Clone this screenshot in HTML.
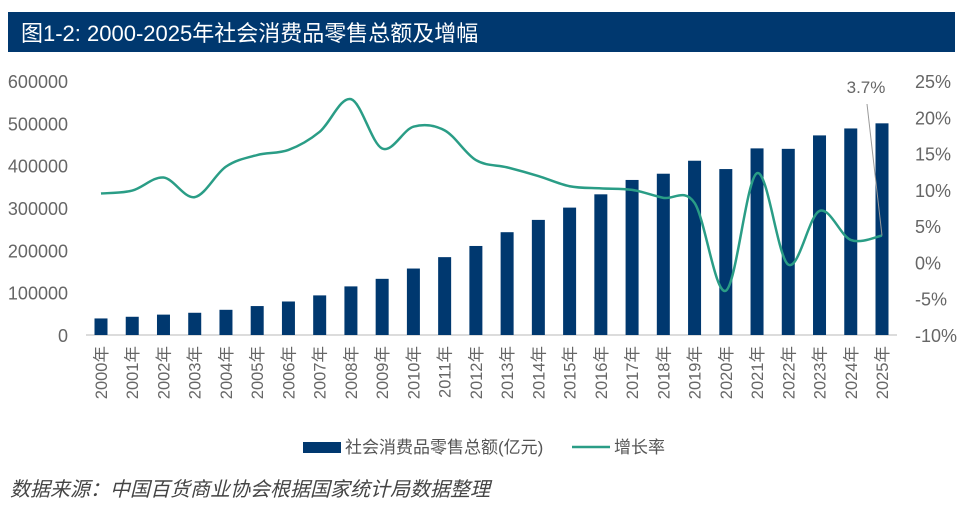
<!DOCTYPE html>
<html><head><meta charset="utf-8"><style>
body{margin:0;background:#fff;width:966px;height:510px;overflow:hidden;font-family:"Liberation Sans","Noto Sans CJK SC",sans-serif}
</style></head><body>
<svg id="c" width="966" height="510" xmlns="http://www.w3.org/2000/svg">
<rect x="8" y="12" width="947" height="40" fill="#00386f"/>
<text x="21" y="41" font-size="22" fill="#fff" font-family="Liberation Sans,Noto Sans CJK SC,sans-serif">图1-2: 2000-2025年社会消费品零售总额及增幅</text>
<g id="g"></g>
<rect x="303" y="442" width="38" height="11" fill="#00386f"/>
<text x="345" y="453" font-size="17" fill="#555">社会消费品零售总额(亿元)</text>
<line x1="572" y1="447" x2="610" y2="447" stroke="#2a9d86" stroke-width="2.5"/>
<text x="614" y="453" font-size="17" fill="#555">增长率</text>
<text x="10" y="496" font-size="20" font-style="italic" fill="#444">数据来源：中国百货商业协会根据国家统计局数据整理</text>
</svg>
<script>
const years=["2000年","2001年","2002年","2003年","2004年","2005年","2006年","2007年","2008年","2009年","2010年","2011年","2012年","2013年","2014年","2015年","2016年","2017年","2018年","2019年","2020年","2021年","2022年","2023年","2024年","2025年"];
const sales=[39106,43055,48136,52516,59501,68353,79145,93572,114830,132678,156998,183919,210307,242843,271896,300931,332316,366262,380987,411649,391981,440823,439733,471495,487895,500000];
const growth=[9.5,9.9,11.7,9.0,13.2,14.8,15.5,18.0,22.5,15.7,18.7,18.2,14.1,13.1,11.9,10.5,10.2,10.0,8.9,8.2,-3.9,12.3,-0.3,7.1,3.1,3.7];
const leftTicks=[0,100000,200000,300000,400000,500000,600000];
const rightTicks=[-10,-5,0,5,10,15,20,25];
const NS="http://www.w3.org/2000/svg",g=document.getElementById('g');
const yL=v=>335-v/600000*254, yR=v=>335-(v+10)/35*254, xC=i=>101+i*31.24;
function el(t,a,txt){const e=document.createElementNS(NS,t);for(const k in a)e.setAttribute(k,a[k]);if(txt!=null)e.textContent=txt;g.appendChild(e);return e;}
leftTicks.forEach(v=>{const e=el('text',{x:68,y:yL(v)+7,'font-size':18,fill:'#666','text-anchor':'end'},String(v));

});
rightTicks.forEach(v=>{const e=el('text',{x:915,y:yR(v)+7,'font-size':18,fill:'#666'},v+'%');

});
const ax=el('line',{x1:86,y1:335,x2:897,y2:335,stroke:'#d0d0d0','stroke-width':1.5});


sales.forEach((v,i)=>{const b=el('rect',{x:xC(i)-6.5,y:yL(v),width:13,height:335-yL(v),fill:'#00386f'});

});
years.forEach((y,i)=>{const t=el('text',{x:0,y:0,'font-size':16.5,fill:'#666','text-anchor':'end',transform:`translate(${xC(i)+6},346) rotate(-90)`},y);

});
const P=growth.map((v,i)=>[xC(i),yR(v)]);
let d=`M${P[0][0]},${P[0][1]}`;
for(let i=0;i<P.length-1;i++){const p0=P[i-1]||P[i],p1=P[i],p2=P[i+1],p3=P[i+2]||p2;
d+=` C${p1[0]+(p2[0]-p0[0])/6},${p1[1]+(p2[1]-p0[1])/6} ${p2[0]-(p3[0]-p1[0])/6},${p2[1]-(p3[1]-p1[1])/6} ${p2[0]},${p2[1]}`;}
const ln=el('path',{d:d,fill:'none',stroke:'#2a9d86','stroke-width':2.5});


const last=P[P.length-1];
const ll=el('line',{x1:867,y1:104,x2:last[0],y2:last[1],stroke:'#999','stroke-width':1});


const an=el('text',{x:866,y:93,'font-size':17,fill:'#666','text-anchor':'middle'},growth[growth.length-1]+'%');


</script>
</body></html>
